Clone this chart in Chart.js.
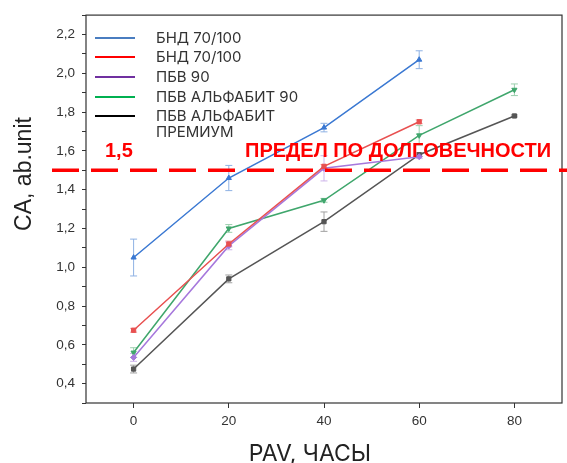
<!DOCTYPE html>
<html>
<head>
<meta charset="utf-8">
<script src="https://cdn.jsdelivr.net/npm/chart.js@4.4.1/dist/chart.umd.min.js"></script>
<style>
html,body{margin:0;padding:0;background:#fff}
</style>
</head>
<body>
<canvas id="c" width="567" height="463"></canvas>
<script>
/* DATA */

const hours=[0,20,40,60,80];
const names=["БНД 70/100","БНД 70/100","ПБВ 90","ПБВ АЛЬФАБИТ 90","ПБВ АЛЬФАБИТ\nПРЕМИУМ"];

const bndBlue=[1.05,1.46,1.72,2.07];
const bndBlueErr=[0.095,0.065,0.022,0.046];
const bndRed=[0.675,1.12,1.52,1.75];
const bndRedErr=[0.01,0.015,0.01,0.01];
const pbv90=[0.535,1.11,1.51,1.57];
const pbv90Err=[0.02,0.02,0.065,0.01];
const alfa90=[0.56,1.2,1.345,1.68,1.915];
const alfa90Err=[0.025,0.02,0.01,0.05,0.03];
const premium=[0.475,0.94,1.235,1.58,1.78];
const premiumErr=[0.02,0.02,0.05,0.01,0.005];

const xTicks=[0,20,40,60,80];
const yTicks=[0.4,0.6,0.8,1.0,1.2,1.4,1.6,1.8,2.0,2.2];

const xTitle="PAV, ЧАСЫ";
const yTitle="CA, ab.unit";

const limit=1.5;
const limitLabel="1,5";
const limitText="ПРЕДЕЛ ПО ДОЛГОВЕЧНОСТИ";

/* STYLE */

const lineColors=["#3a78d2","#e85050","#a678dc","#3fa66c","#555555"];
const errColors=["#8fb2e4","#f0a0a0","#cdb4ea","#9ccfae","#a0a0a0"];
const legendColors=["#4a7dc0","#ff0000","#7030a0","#00b050","#000000"];
const markers=["triangle","rect","rectRot","triangle","rect"];
const rotations=[0,0,0,180,0];

const values=[bndBlue,bndRed,pbv90,alfa90,premium];
const errors=[bndBlueErr,bndRedErr,pbv90Err,alfa90Err,premiumErr];

const datasets=values.map((v,i)=>({
label:names[i],
data:v.map((y,j)=>({x:hours[j],y:y})),
errs:errors[i],
borderColor:lineColors[i],
backgroundColor:lineColors[i],
borderWidth:1.5,
pointStyle:markers[i],
pointRotation:rotations[i],
pointRadius:3,
pointBorderWidth:1,
tension:0
}));

/* PLUGINS */

const errorBars={
id:"errorBars",
beforeDatasetsDraw(chart){
const ctx=chart.ctx;
const ys=chart.scales.y;
ctx.save();
ctx.lineWidth=1;
chart.data.datasets.forEach((ds,i)=>{
const meta=chart.getDatasetMeta(i);
ctx.strokeStyle=errColors[i];
meta.data.forEach((pt,j)=>{
const v=ds.data[j].y,e=ds.errs[j];
const t=ys.getPixelForValue(v+e),b=ys.getPixelForValue(v-e);
ctx.beginPath();
ctx.moveTo(pt.x,t);ctx.lineTo(pt.x,b);
ctx.moveTo(pt.x-3.5,t);ctx.lineTo(pt.x+3.5,t);
ctx.moveTo(pt.x-3.5,b);ctx.lineTo(pt.x+3.5,b);
ctx.stroke();
});
});
ctx.restore();
}
};

const frame={
id:"frame",
afterDraw(chart){
const ctx=chart.ctx,a=chart.chartArea;
const ys=chart.scales.y;

ctx.save();
ctx.strokeStyle="#333";
ctx.lineWidth=1.2;
ctx.strokeRect(a.left,a.top,a.right-a.left,a.bottom-a.top);

/* axis titles */
ctx.fillStyle="#222";
ctx.textAlign="center";
ctx.textBaseline="alphabetic";
ctx.font="23px Inter";
ctx.fillText(xTitle,310,461);
ctx.save();
ctx.translate(31,174);
ctx.rotate(-Math.PI/2);
ctx.font="23px 'Liberation Sans'";
ctx.fillText(yTitle,0,0);
ctx.restore();

/* limit line */
const yl=ys.getPixelForValue(limit);
ctx.strokeStyle="#ff0000";
ctx.lineWidth=3.5;
ctx.setLineDash([27,12]);
ctx.beginPath();
ctx.moveTo(52,yl);ctx.lineTo(567,yl);
ctx.stroke();
ctx.setLineDash([]);

ctx.fillStyle="#ff0000";
ctx.font="bold 20px 'Liberation Sans'";
ctx.textAlign="left";
ctx.fillText(limitLabel,105,yl-13);
ctx.fillText(limitText,245,yl-13);

/* legend */
ctx.font="15px Inter";
ctx.fillStyle="#333";
ctx.textBaseline="middle";
const rows=[38,57,77,97,116];
names.forEach((n,i)=>{
ctx.strokeStyle=legendColors[i];
ctx.lineWidth=2;
ctx.beginPath();
ctx.moveTo(95,rows[i]);ctx.lineTo(135,rows[i]);
ctx.stroke();
n.split("\n").forEach((s,k)=>{
ctx.fillText(s,156,rows[i]+k*16);
});
});
ctx.restore();
}
};

/* CHART */

new Chart(document.getElementById("c"),{

type:"line",

data:{datasets:datasets},

options:{
responsive:false,
animation:false,
layout:{padding:{top:12,right:4,left:0,bottom:0}},
plugins:{legend:{display:false},tooltip:{enabled:false}},
scales:{
x:{
type:"linear",
min:-10,max:90,
afterBuildTicks:s=>{s.ticks=xTicks.map(v=>({value:v}));},
afterFit:s=>{s.height=60;},
grid:{display:true,drawOnChartArea:false,tickLength:5,color:"#333"},
border:{display:false},
ticks:{color:"#333",font:{family:"Liberation Sans",size:13.5},padding:5,maxRotation:0,autoSkip:false}
},
y:{
type:"linear",
min:0.3,max:2.3,
afterBuildTicks:s=>{
const t=[];
for(let k=3;k<=23;k++)t.push({value:k/10});
s.ticks=t;
},
afterFit:s=>{s.width=86;},
grid:{display:true,drawOnChartArea:false,tickLength:4,color:"#333"},
border:{display:false},
ticks:{
color:"#333",
font:{family:"Liberation Sans",size:13.5},
padding:7,
autoSkip:false,
callback:v=>{
const m=yTicks.find(t=>Math.abs(t-v)<1e-6);
return m===undefined?"":m.toFixed(1).replace(".",",");
}
}
}
}
},

plugins:[errorBars,frame]

});
</script>
</body>
</html>
